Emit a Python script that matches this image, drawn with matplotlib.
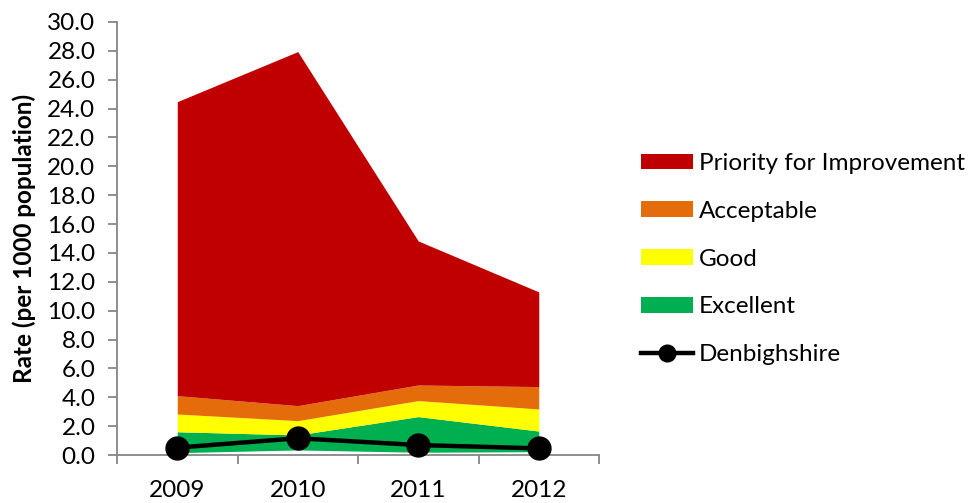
import matplotlib
matplotlib.use("Agg")
import matplotlib.pyplot as plt
from matplotlib.patches import Patch
from matplotlib.lines import Line2D

years = ["2009", "2010", "2011", "2012"]

# band boundaries (rate per 1000 population)
band_floor = [0.16, 0.35, 0.19, 0.23]
excellent_top = [1.61, 1.39, 2.66, 1.66]
good_top = [2.84, 2.38, 3.77, 3.19]
acceptable_top = [4.11, 3.42, 4.85, 4.74]
priority_top = [24.48, 27.95, 14.83, 11.30]

denbighshire = [0.51, 1.16, 0.69, 0.46]

band_names = ["Priority for Improvement", "Acceptable", "Good", "Excellent"]
band_colors = ["#C00000", "#E46C0A", "#FFFF00", "#00B050"]
line_name = "Denbighshire"

yticks = [i * 2.0 for i in range(16)]

plt.rcParams["font.family"] = ["Lato", "DejaVu Sans"]
fs = 17.5

fig = plt.figure(figsize=(9.74, 5.03), dpi=100)
ax = fig.add_axes([117 / 974, 1 - 455 / 503, 482 / 974, 433 / 503])

x = list(range(len(years)))
edges = [band_floor, excellent_top, good_top, acceptable_top, priority_top]
fills = ["#00B050", "#FFFF00", "#E46C0A", "#C00000"]
for lo, hi, c in zip(edges[:-1], edges[1:], fills):
    ax.fill_between(x, lo, hi, color=c, linewidth=0, zorder=2)

ax.plot(x, denbighshire, color="black", linewidth=3.2, marker="o",
        markersize=16.5, zorder=4, clip_on=False)

ax.set_xlim(-0.5, len(years) - 0.5)
ax.set_ylim(0, 30)

gray = "#868686"
for s in ["top", "right"]:
    ax.spines[s].set_visible(False)
for s in ["left", "bottom"]:
    ax.spines[s].set_color(gray)
    ax.spines[s].set_linewidth(1.3)

ax.set_yticks(yticks)
ax.set_yticklabels([f"{v:.1f}" for v in yticks])
ax.tick_params(axis="y", direction="out", length=6.5, width=1.3, color=gray,
               pad=9, labelsize=fs, labelcolor="black")

ax.set_xticks([i - 0.5 for i in range(len(years) + 1)])
ax.set_xticklabels([])
ax.set_xticks(x, minor=True)
ax.set_xticklabels(years, minor=True)
ax.tick_params(axis="x", which="major", direction="out", length=6.5,
               width=1.3, color=gray)
ax.tick_params(axis="x", which="minor", length=0, pad=18, labelsize=fs,
               labelcolor="black")

ax.set_ylabel("Rate (per 1000 population)", fontsize=fs, fontweight="bold",
              labelpad=8)

handles = [Patch(facecolor=c, edgecolor="none") for c in band_colors]
handles.append(Line2D([], [], color="black", linewidth=3.2, marker="o",
                      markersize=12))
fig.legend(handles, band_names + [line_name], loc="center left",
           bbox_to_anchor=(0.658, 0.485), frameon=False, fontsize=fs,
           handlelength=2.14, handleheight=0.62, handletextpad=0.25,
           labelspacing=1.1, borderaxespad=0, borderpad=0)

fig.savefig("out.png", dpi=100)
